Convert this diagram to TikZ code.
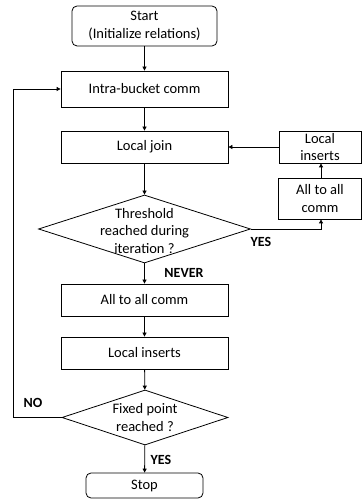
\documentclass[tikz,border=0pt]{standalone}
\usepackage{fontspec}
\setmainfont{Carlito}
\usetikzlibrary{shapes.geometric,arrows.meta}
\begin{document}
\begin{tikzpicture}[x=1pt,y=1pt,
  every node/.style={font=\fontsize{14.5}{17.5}\selectfont},
  box/.style={draw,line width=0.8pt,inner sep=0pt,align=center},
  rbox/.style={box,rounded corners=5pt},
  dec/.style={draw,line width=0.8pt,diamond,inner sep=0pt,minimum width=#1},
  lbl/.style={font=\fontsize{14}{16}\bfseries},
  arr/.style={line width=0.8pt,-{Triangle[length=4pt,width=4pt]}}]
\useasboundingbox (0,0) rectangle (362,500);
\node[rbox,minimum width=145,minimum height=40] (start) at (144.5,474) {Start\\(Initialize relations)};
\node[box,minimum width=167,minimum height=36] (intra) at (144.5,411) {Intra-bucket comm};
\node[box,minimum width=167,minimum height=32] (join) at (144.5,353) {Local join};
\node[box,minimum width=82,minimum height=32] (linsR) at (320,353) {Local\\inserts};
\node[box,minimum width=83,minimum height=41] (a2aR) at (320,301.5) {All to all\\comm};
\node[dec=212,minimum height=68] (d1) at (144.5,271) {};
\node[align=center] at (144.5,269) {Threshold\\reached during\\iteration ?};
\node[box,minimum width=167,minimum height=32] (a2a) at (144.5,200) {All to all comm};
\node[box,minimum width=167,minimum height=32] (lins) at (144.5,147) {Local inserts};
\node[dec=166,minimum height=55] (d2) at (145,82.5) {};
\node[align=center] at (145,82.5) {Fixed point\\reached ?};
\node[rbox,minimum width=117,minimum height=25] (stop) at (144.5,14.5) {Stop};
\coordinate (lx) at (13,0);
\draw[arr] (start) -- (intra);
\draw[arr] (intra) -- (join);
\draw[arr] (join) -- (d1);
\draw[arr] (d1) -- (a2a);
\draw[arr] (a2a) -- (lins);
\draw[arr] (lins) -- (d2);
\draw[arr] (d2) -- (stop);
\draw[arr] (d1.east) -| ([xshift=1pt]a2aR.south);
\draw[arr] ([xshift=1pt]a2aR.north) -- ([xshift=1pt]linsR.south);
\draw[arr] (linsR) -- (join);
\draw[arr] (d2.west) -| (lx |- intra.west) -- (intra.west);
\node[lbl] (yes1) at (261,258) {YES};
\node[lbl] (never) at (184,227) {NEVER};
\node[lbl] (no) at (33,97) {NO};
\node[lbl] (yes2) at (161,40) {YES};
\end{tikzpicture}
\end{document}
